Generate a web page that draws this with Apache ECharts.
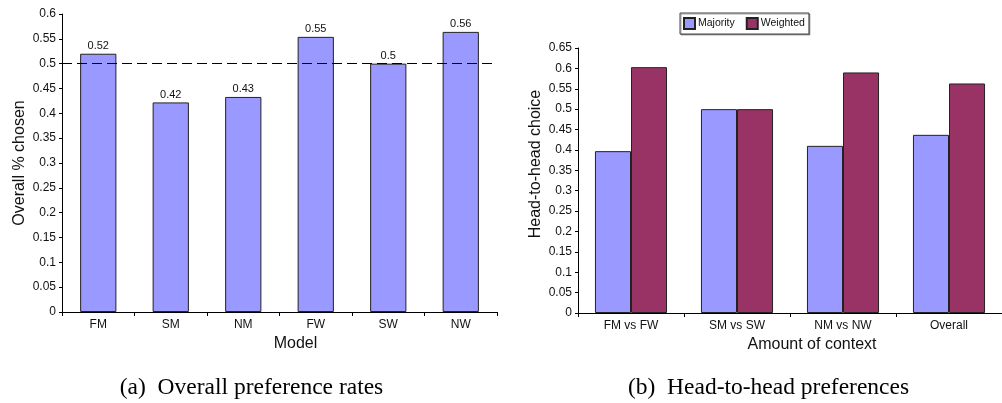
<!DOCTYPE html>
<html>
<head>
<meta charset="utf-8">
<script src="https://cdn.jsdelivr.net/npm/echarts@6/dist/echarts.min.js"></script>
<style>
html,body{margin:0;padding:0;background:#fff;}
#chart{width:1002px;height:403px;}
</style>
</head>
<body>
<div id="chart"></div>
<script>
// (a) Overall preference rates
const modelCategories = ['FM', 'SM', 'NM', 'FW', 'SW', 'NW'];
const overallChosen = [0.52, 0.422, 0.433, 0.554, 0.5, 0.564];
const chanceLevel = 0.5;

// (b) Head-to-head preferences
const contextCategories = ['FM vs FW', 'SM vs SW', 'NM vs NW', 'Overall'];
const majorityChoice = [0.397, 0.5, 0.41, 0.437];
const weightedChoice = [0.603, 0.5, 0.59, 0.563];

const captionA = '(a)  Overall preference rates';
const captionB = '(b)  Head-to-head preferences';

const sans = 'Liberation Sans, Arial, sans-serif';
const serif = 'Liberation Serif, Times New Roman, serif';
const ink = '#111';

function valueAxis(gridIndex, max, name, namePad) {
  return {
    type: 'value', gridIndex: gridIndex, min: 0, max: max, interval: 0.05,
    name: name, nameLocation: 'middle', nameGap: 34, nameRotate: 90,
    nameTextStyle: { fontFamily: sans, fontSize: 16, color: ink, padding: namePad },
    axisLine: { show: true, lineStyle: { color: '#000', width: 1 } },
    axisTick: { show: true, length: 3, lineStyle: { color: '#000' } },
    axisLabel: { fontFamily: sans, fontSize: 12, color: ink, margin: 6,
      formatter: function (v) { return String(+v.toFixed(2)); } },
    splitLine: { show: false }
  };
}
function catAxis(gridIndex, data, name, namePad) {
  return {
    type: 'category', gridIndex: gridIndex, data: data,
    name: name, nameLocation: 'middle', nameGap: 23,
    nameTextStyle: { fontFamily: sans, fontSize: 16, color: ink, padding: namePad },
    axisLine: { show: true, lineStyle: { color: '#000', width: 1 } },
    axisTick: { show: true, length: 4, lineStyle: { color: '#000' } },
    axisLabel: { fontFamily: sans, fontSize: 12, color: ink, margin: 7 }
  };
}

const chart = echarts.init(document.getElementById('chart'), null, { renderer: 'canvas' });
chart.setOption({
  animation: false,
  backgroundColor: '#fff',
  grid: [
    { left: 62, top: 14, width: 435, height: 298 },
    { left: 578, top: 48, width: 436, height: 265 }
  ],
  legend: {
    data: ['Majority', 'Weighted'],
    left: 680, top: 13,
    orient: 'horizontal',
    itemWidth: 11, itemHeight: 11, itemGap: 11,
    padding: [4, 4, 4, 3],
    borderColor: '#444', borderWidth: 1,
    backgroundColor: '#fff',
    shadowColor: 'rgba(0,0,0,0.35)', shadowOffsetX: 1, shadowOffsetY: 1, shadowBlur: 0,
    textStyle: { fontFamily: sans, fontSize: 10.5, color: ink, padding: [0, 0, 0, -2] },
    icon: 'rect'
  },
  xAxis: [
    catAxis(0, modelCategories, 'Model', [0, 0, 0, 32]),
    catAxis(1, contextCategories, 'Amount of context', [0, 0, 0, 44])
  ],
  yAxis: [
    valueAxis(0, 0.6, 'Overall % chosen', [0, 0, 0, 0]),
    valueAxis(1, 0.65, 'Head-to-head choice', [0, 0, 0, 33])
  ],
  series: [
    {
      type: 'bar', name: 'Overall', xAxisIndex: 0, yAxisIndex: 0,
      data: overallChosen, barWidth: '50%',
      itemStyle: { color: '#9999ff', borderColor: '#222', borderWidth: 1 },
      label: { show: true, position: 'top', distance: 2, fontFamily: sans, fontSize: 11, color: ink,
        formatter: function (p) { return String(+p.value.toFixed(2)); } },
      markLine: {
        silent: true, symbol: 'none',
        label: { show: false },
        lineStyle: { color: '#000', type: [10, 5], width: 1 },
        data: [{ yAxis: chanceLevel }]
      }
    },
    {
      type: 'bar', name: 'Majority', xAxisIndex: 1, yAxisIndex: 1,
      data: majorityChoice, barCategoryGap: '32%', barGap: '0%',
      itemStyle: { color: '#9999ff', borderColor: '#222', borderWidth: 1 }
    },
    {
      type: 'bar', name: 'Weighted', xAxisIndex: 1, yAxisIndex: 1,
      data: weightedChoice, barCategoryGap: '32%', barGap: '0%',
      itemStyle: { color: '#993366', borderColor: '#222', borderWidth: 1 }
    }
  ],
  graphic: [
    { type: 'text', x: 251.5, y: 388, style: { text: captionA, fontFamily: serif, fontSize: 23.5, fill: '#000', align: 'center', verticalAlign: 'middle' } },
    { type: 'text', x: 768.5, y: 388, style: { text: captionB, fontFamily: serif, fontSize: 23.5, fill: '#000', align: 'center', verticalAlign: 'middle' } }
  ]
});
</script>
</body>
</html>
